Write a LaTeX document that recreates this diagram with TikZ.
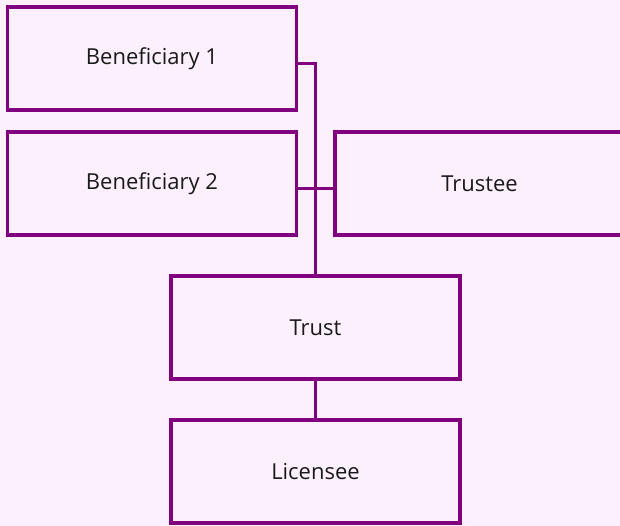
\documentclass[tikz,border=0pt]{standalone}
\usepackage{fontspec}
\setmainfont{Open Sans}
\definecolor{orgpurple}{HTML}{800080}
\definecolor{orgbg}{HTML}{FDF0FD}
\definecolor{orgtext}{HTML}{1A1A1A}

\begin{document}
\begin{tikzpicture}[x=1pt, y=-1pt,
  party/.style={draw=orgpurple, line width=3.3pt, fill=orgbg, text=orgtext,
    minimum width=289pt, minimum height=103pt, inner sep=0pt, outer sep=0pt,
    font=\fontsize{22}{26}\selectfont},
  link/.style={draw=orgpurple, line width=2.2pt}]
  % Background and page size
  \fill[orgbg] (0,0) rectangle (620,526);
  \useasboundingbox (0,0) rectangle (620,526);

  % Draw the parties
  \node[party] (ben1) at (152, 58.5) {Beneficiary 1};
  \node[party] (ben2) at (152, 183.5) {Beneficiary 2};
  \node[party] (trustee) at (479.5, 183.5) {Trustee};
  \node[party] (trust) at (315.5, 327.5) {Trust};
  \node[party] (licensee) at (315.5, 471.5) {Licensee};

  % Draw the links
  \draw[link] ([yshift=-5pt]ben1.east) -| (trust.north);
  \draw[link] ([yshift=-5pt]ben2.east) -- ([yshift=-5pt]trustee.west);
  \draw[link] (trust) -- (licensee);
\end{tikzpicture}
\end{document}
